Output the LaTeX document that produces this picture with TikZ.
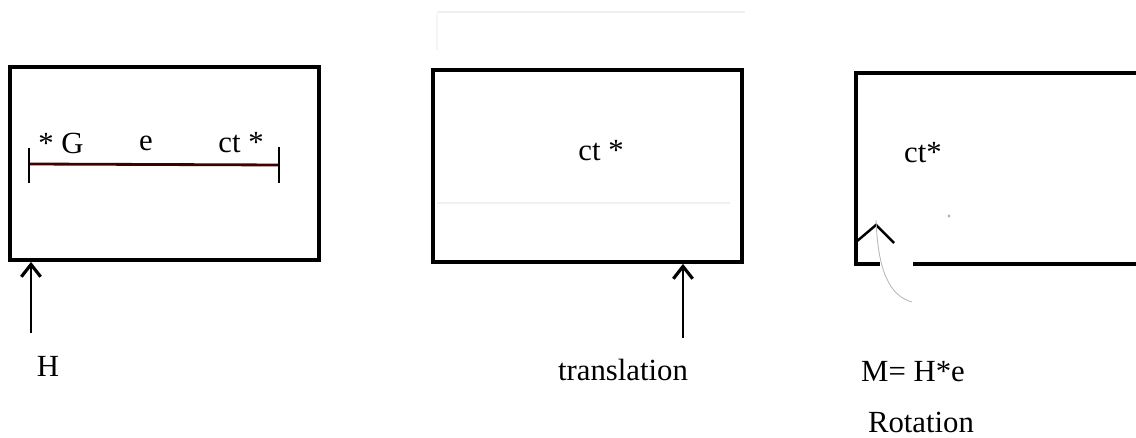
\documentclass[tikz,border=0pt]{standalone}
\usepackage{fontspec}
\setmainfont{Liberation Serif}
\usetikzlibrary{positioning,arrows.meta}

\tikzset{
  frame/.style={draw, line width=2.2pt, minimum width=6.18cm, minimum height=3.86cm, inner sep=0pt},
  push/.style={-{Straight Barb[length=7pt,width=11pt,line width=1.8pt]}, line width=1.4pt},
  lbl/.style={font=\fontsize{17.5}{20}\selectfont, inner sep=0pt},
  faint/.style={gray!12, line width=0.6pt}
}

\begin{document}
\begin{tikzpicture}[x=0.02cm, y=-0.02cm]
    \useasboundingbox (0,0) rectangle (1136,438);
    \clip (0,0) rectangle (1136,438);

    % scan marks
    \draw[faint] (437,12) -- (745,12);
    \draw[faint, gray!8] (437,14) -- (437,50);
    \draw[faint] (437,203) -- (730,203);

    % Left panel: the segment inside the frame
    \node[frame] (leftbox) at (164.5,163.5) {};
    \coordinate (gl) at (29,164);
    \coordinate (gr) at (279,165);
    \draw[line width=1.6pt, black!75!red] (gl) -- (gr);
    \draw[line width=1.6pt] ([yshift=-0.38cm]gl) -- ([yshift=0.32cm]gl);
    \draw[line width=1.6pt] ([yshift=-0.36cm]gr) -- ([yshift=0.36cm]gr);
    \node[lbl] (sg) at (61,143) {* G};
    \node[lbl] (se) at (146,143) {e};
    \node[lbl] (sct) at (241,143) {ct *};

    % push at the corner
    \coordinate (hbase) at (31,333);
    \draw[push] (hbase) -- (hbase |- leftbox.south);
    \node[lbl] (hlabel) at (48,366) {H};

    % Middle panel: translation
    \node[frame, minimum height=3.84cm] (midbox) at (587.5,166) {};
    \node[lbl] (mct) at (601,151) {ct *};
    \coordinate (tbase) at (683,338);
    \draw[push] (tbase) -- (tbase |- midbox.south);
    \node[lbl] (tlabel) at (623,370) {translation};

    % Right panel: rotation (frame runs off the page)
    \draw[line width=2.2pt] (880,264) -- (856,264) -- (856,73) -- (1150,73);
    \draw[line width=2.2pt] (913,264) -- (1150,264);
    \node[lbl] (rct) at (923,153) {ct*};
    \coordinate (cl) at (856,242);
    \coordinate (ctop) at (876,225);
    \coordinate (cr) at (894,243);
    \draw[line width=1.4pt] (cl) -- (ctop) -- (cr);
    \draw[gray!55, line width=0.5pt] ([yshift=0.1cm]ctop) .. controls (878,272) and (890,296) .. (912,302);
    \fill[gray!60] (949,216) circle (0.9pt);
    \node[lbl] (mlabel) at (913,372) {M= H*e};
    \node[lbl] (rlabel) at (921,422) {Rotation};
\end{tikzpicture}
\end{document}
